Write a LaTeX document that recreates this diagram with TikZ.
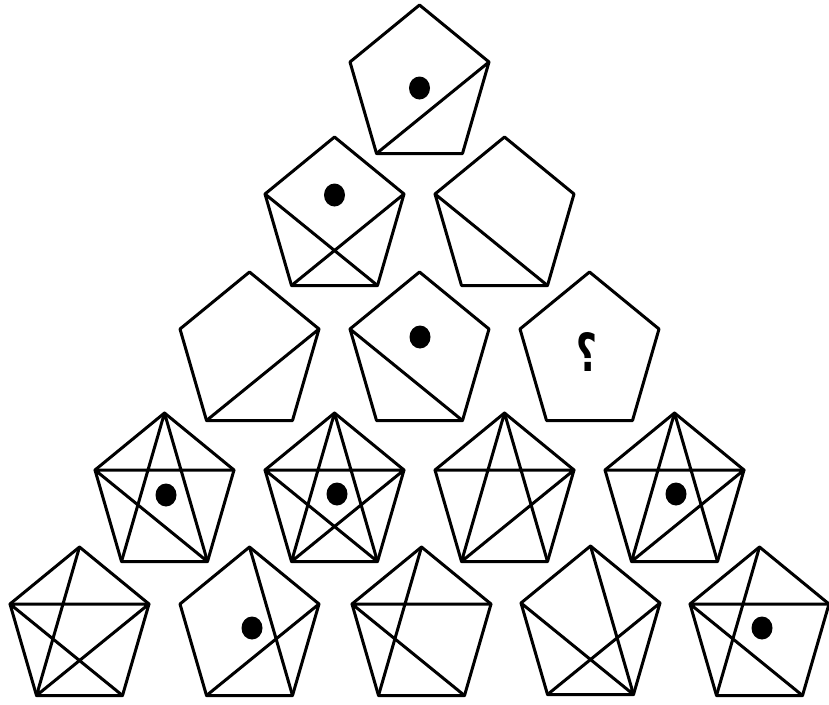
\documentclass[tikz,border=0pt]{standalone}
\usepackage{graphicx}
\usepackage{fontspec}
\newfontfamily\qfont{DejaVu Sans}
\usetikzlibrary{shapes.geometric}
\tikzset{
  pen/.style={line width=3pt, line join=round, line cap=round},
  dotmark/.style={ellipse, fill=black, inner sep=0pt, minimum width=21pt, minimum height=23pt},
}
% pentagon: name, x of top vertex, y of top vertex
\newcommand\pentagon[3]{%
  \coordinate (#1T)  at (#2,#3);
  \coordinate (#1L)  at ([shift={(-69.5,57)}]#2,#3);
  \coordinate (#1R)  at ([shift={(69.5,57)}]#2,#3);
  \coordinate (#1BL) at ([shift={(-43,148.5)}]#2,#3);
  \coordinate (#1BR) at ([shift={(43,148.5)}]#2,#3);
  \draw[pen] (#1T) -- (#1R) -- (#1BR) -- (#1BL) -- (#1L) -- cycle;
}
\begin{document}
\begin{tikzpicture}[x=1pt,y=-1pt]
\useasboundingbox (0,0) rectangle (829,704);
% row 1
\pentagon{ra}{419.5}{5}
% row 2
\pentagon{rba}{334.5}{137}
\pentagon{rbb}{504.5}{137}
% row 3
\pentagon{rca}{249.5}{272}
\pentagon{rcb}{419.5}{272}
\pentagon{rcc}{589.5}{272}
% row 4
\pentagon{rda}{164.5}{413}
\pentagon{rdb}{334.5}{413}
\pentagon{rdc}{504.5}{413}
\pentagon{rdd}{674.5}{413}
% row 5
\pentagon{rea}{79.5}{547}
\pentagon{reb}{249.5}{547}
\pentagon{rec}{421.5}{547}
\pentagon{red}{590.5}{546}
\pentagon{ree}{759.5}{547}

% diagonals
\draw[pen] (raBL) -- (raR);
\draw[pen] (rbaL) -- (rbaBR) (rbaR) -- (rbaBL);
\draw[pen] (rbbL) -- (rbbBR);
\draw[pen] (rcaBL) -- (rcaR);
\draw[pen] (rcbL) -- (rcbBR);
\draw[pen] (rdaL) -- (rdaR) (rdaT) -- (rdaBL) (rdaT) -- (rdaBR) (rdaL) -- (rdaBR);
\draw[pen] (rdbL) -- (rdbR) (rdbT) -- (rdbBL) (rdbT) -- (rdbBR) (rdbL) -- (rdbBR) (rdbR) -- (rdbBL);
\draw[pen] (rdcL) -- (rdcR) (rdcT) -- (rdcBL) (rdcT) -- (rdcBR) (rdcR) -- (rdcBL);
\draw[pen] (rddL) -- (rddR) (rddT) -- (rddBL) (rddT) -- (rddBR) (rddR) -- (rddBL);
\draw[pen] (reaL) -- (reaR) (reaT) -- (reaBL) (reaL) -- (reaBR) (reaR) -- (reaBL);
\draw[pen] (rebT) -- (rebBR) (rebR) -- (rebBL);
\draw[pen] (recL) -- (recR) (recT) -- (recBL) (recL) -- (recBR);
\draw[pen] (redT) -- (redBR) (redL) -- (redBR) (redR) -- (redBL);
\draw[pen] (reeL) -- (reeR) (reeT) -- (reeBL) (reeL) -- (reeBR);

% dots
\node[dotmark] (da) at (419.5,88) {};
\node[dotmark] (db) at (334.5,195) {};
\node[dotmark] (dc) at (420,337) {};
\node[dotmark] (dd) at (166,495) {};
\node[dotmark] (de) at (337,494) {};
\node[dotmark] (df) at (676,494) {};
\node[dotmark] (dg) at (252,628) {};
\node[dotmark] (dh) at (762,628) {};

% question mark
\node[inner sep=0pt] (qm) at (587,352) {\resizebox{21pt}{39pt}{\reflectbox{\qfont\bfseries ?}}};
\end{tikzpicture}
\end{document}
